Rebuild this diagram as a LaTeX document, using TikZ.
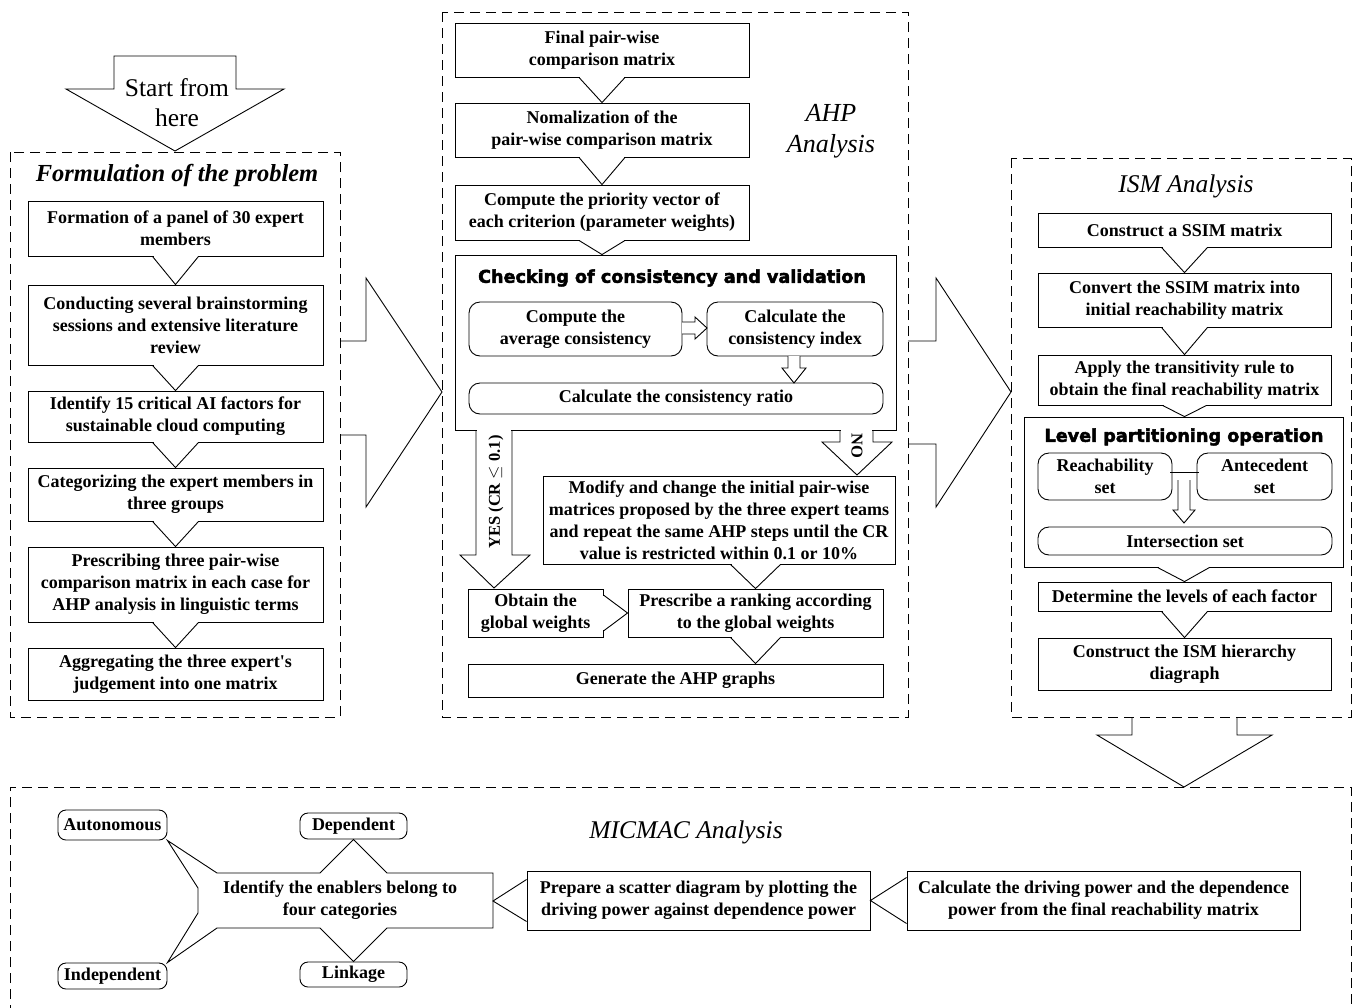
\documentclass[tikz,border=0pt]{standalone}
\usepackage{fontspec}
\setmainfont{Liberation Serif}
\newfontfamily\headfont{DejaVu Sans}[BoldFont={DejaVu Sans Bold}, BoldFeatures={FakeBold=2.5}]
\tikzset{
 ln/.style={line width=0.9pt, line join=miter},
 box/.style={draw, ln, fill=white, inner sep=0pt, align=center, font=\bfseries\fontsize{18}{22}\selectfont},
 rbox/.style={box, rounded corners=11pt},
 sbox/.style={box, rounded corners=8pt},
 cont/.style={draw, line width=0.9pt, dash pattern=on 10pt off 6pt},
 ttl/.style={align=center, font=\itshape\fontsize{25.5}{31}\selectfont},
 hd/.style={font=\headfont\bfseries\fontsize{17.6}{20}\selectfont},
 plain/.style={align=center, inner sep=0pt, font=\bfseries\fontsize{18}{22}\selectfont},
}
\newcommand{\mybox}[7]{\node[#1,minimum width={#5-#3},minimum height={#6-#4}] (#2) at ({(#3+#5)/2},{(#4+#6)/2}) {#7};}
\newcommand{\vcon}[3]{%
 \draw[white,line width=1.6pt] ([xshift={-(#3-1)}]#1) -- ([xshift={#3-1}]#1);
 \draw[ln] ([xshift=-#3]#1) -- (#2) -- ([xshift=#3]#1);}
\newcommand{\hcon}[3]{%
 \draw[white,line width=1.6pt] ([yshift={#3-1}]#1) -- ([yshift={-(#3-1)}]#1);
 \draw[ln] ([yshift=#3]#1) -- (#2) -- ([yshift=-#3]#1);}
\begin{document}
\begin{tikzpicture}[x=1pt,y=-1pt]
\useasboundingbox (0,0) rectangle (1362,1007);
% containers
\draw[cont] (10,152) rectangle (340,717);
\draw[cont] (442,12) rectangle (908,717);
\draw[cont] (1011,158) rectangle (1351,717);
\draw[cont] (10,1015) -- (10,787) -- (1351,787) -- (1351,1015);
% big arrows
\draw[ln,fill=white] (114,56) -- (236,56) -- (236,89) -- (284,89) -- (175,151) -- (66,89) -- (114,89) -- cycle;
\node[align=center, inner sep=0pt, font=\fontsize{25.5}{30}\selectfont] (start) at (177,103) {Start from\\here};
\draw[ln] (340,341) -- (366,341) -- (366,278) -- (442,392) -- (366,507) -- (366,435) -- (340,435);
\draw[ln] (908,341) -- (936,341) -- (936,278) -- (1011,392) -- (936,507) -- (936,444) -- (908,444);
\draw[ln] (1132,717) -- (1132,735) -- (1097,735) -- (1184,787) -- (1272,735) -- (1237,735) -- (1237,717);
% titles
\node[ttl, font=\bfseries\itshape\fontsize{24.5}{26}\selectfont] (t1) at (177,175) {Formulation of the problem};
\node[ttl, font=\itshape\fontsize{26}{31}\selectfont] (t2) at (831,131) {AHP\\Analysis};
\node[ttl] (t3) at (1186,186) {ISM Analysis};
\node[ttl] (t4) at (686,832) {MICMAC Analysis};
% left column
\mybox{box}{l1}{28}{201}{323}{256}{Formation of a panel of 30 expert\\members}
\mybox{box}{l2}{28}{285}{323}{365}{Conducting several brainstorming\\sessions and extensive literature\\review}
\mybox{box}{l3}{28}{391}{323}{442}{Identify 15 critical AI factors for\\sustainable cloud computing}
\mybox{box}{l4}{28}{468}{323}{521}{Categorizing the expert members in\\three groups}
\mybox{box}{l5}{28}{547}{323}{622}{Prescribing three pair-wise\\comparison matrix in each case for\\AHP analysis in linguistic terms}
\mybox{box}{l6}{28}{648}{323}{700}{Aggregating the three expert\textquotesingle s\\judgement into one matrix}
\vcon{l1.south}{l2.north}{23}
\vcon{l2.south}{l3.north}{23}
\vcon{l3.south}{l4.north}{23}
\vcon{l4.south}{l5.north}{23}
\vcon{l5.south}{l6.north}{23}
% middle column
\mybox{box}{m1}{455}{23}{749}{77}{Final pair-wise\\comparison matrix}
\mybox{box}{m2}{455}{103}{749}{157}{Nomalization of the\\pair-wise comparison matrix}
\mybox{box}{m3}{455}{185}{749}{240}{Compute the priority vector of\\each criterion (parameter weights)}
\mybox{box}{chk}{455}{255}{896}{430}{}
\node[hd] (chkh) at (672,278) {Checking of consistency and validation};
\mybox{rbox}{c1}{469}{302}{682}{356}{Compute the\\average consistency}
\mybox{rbox}{c2}{707}{302}{883}{356}{Calculate the\\consistency index}
\mybox{rbox}{c3}{469}{383}{883}{414}{Calculate the consistency ratio}
\draw[ln,fill=white] (682,322) -- (695,322) -- (695,317) -- (707,328) -- (695,339) -- (695,334) -- (682,334);
\draw[ln,fill=white] (788,356) -- (788,368) -- (782,368) -- (794,383) -- (806,368) -- (800,368) -- (800,356);
\vcon{m1.south}{m2.north}{23}
\vcon{m2.south}{m3.north}{23}
\coordinate (a1) at (m3.south |- chk.north);
\vcon{m3.south}{a1}{23}
\mybox{box}{mod}{543}{476}{895}{564}{Modify and change the initial pair-wise\\matrices proposed by the three expert teams\\and repeat the same AHP steps until the CR\\value is restricted within 0.1 or 10\%}
\mybox{box}{obt}{468}{589}{603}{637}{Obtain the\\global weights}
\mybox{box}{pres}{628}{589}{883}{637}{Prescribe a ranking according\\to the global weights}
\mybox{box}{gen}{468}{664}{883}{697}{Generate the AHP graphs}
% YES / NO arrows
\draw[white,line width=1.6pt] (477,430) -- (511,430);
\draw[white,line width=1.6pt] (841,430) -- (872,430);
\draw[ln] (476,430) -- (476,555) -- (460,555) -- (494,588) -- (530,555) -- (512,555) -- (512,430);
\draw[ln] (840,430) -- (840,442) -- (822,442) -- (857,475) -- (892,442) -- (873,442) -- (873,430);
\node[plain, rotate=90, font=\bfseries\fontsize{16.5}{20}\selectfont] (yes) at (496,492) {YES (CR $\leq$ 0.1)};
\node[plain, rotate=-90, font=\bfseries\fontsize{16.5}{20}\selectfont] (no) at (857,446) {NO};
\coordinate (t1m) at (pres.north |- mod.south);
\vcon{t1m}{pres.north}{25}
\hcon{obt.east}{pres.west}{18}
\coordinate (a2) at (pres.south |- gen.north);
\vcon{pres.south}{a2}{25}
% right column
\mybox{box}{r1}{1038}{213}{1331}{247}{Construct a SSIM matrix}
\mybox{box}{r2}{1038}{273}{1331}{327}{Convert the SSIM matrix into\\initial reachability matrix}
\mybox{box}{r3}{1038}{355}{1331}{405}{Apply the transitivity rule to\\obtain the final reachability matrix}
\mybox{box}{lvl}{1024}{417}{1343}{567}{}
\node[hd] (lvlh) at (1184,437) {Level partitioning operation};
\mybox{rbox}{rs}{1038}{453}{1172}{500}{Reachability\\set}
\mybox{rbox}{as}{1197}{453}{1332}{500}{Antecedent\\set}
\mybox{rbox}{is}{1038}{527}{1332}{555}{Intersection set}
\draw[ln] (1170,472) -- (1199,472);
\draw[ln,fill=white] (1178,480) -- (1178,510) -- (1173,510) -- (1184,523) -- (1195,510) -- (1190,510) -- (1190,480);
\mybox{box}{r5}{1038}{582}{1331}{611}{Determine the levels of each factor}
\mybox{box}{r6}{1038}{638}{1331}{690}{Construct the ISM hierarchy\\diagraph}
\vcon{r1.south}{r2.north}{23}
\vcon{r2.south}{r3.north}{23}
\coordinate (a3) at (r3.south |- lvl.north);
\vcon{r3.south}{a3}{22}
\vcon{lvl.south}{r5.north}{26}
\vcon{r5.south}{r6.north}{23}
% bottom
\mybox{box}{calc}{907}{871}{1300}{930}{Calculate the driving power and the dependence\\power from the final reachability matrix}
\mybox{box}{prep}{527}{871}{870}{930}{Prepare a scatter diagram by plotting the\\driving power against dependence power}
\mybox{sbox}{auto}{58}{810}{167}{840}{Autonomous}
\mybox{sbox}{dep}{300}{813}{407}{839}{Dependent}
\mybox{sbox}{ind}{58}{963}{167}{989}{Independent}
\mybox{sbox}{lnk}{300}{962}{407}{987}{Linkage}
\node[plain] (idf) at (340,900) {Identify the enablers belong to\\four categories};
\coordinate (idfR) at (493,901);
\draw[ln] (217,873) -- (320,873) -- (dep.south) -- (387,873) -- (493,873) -- (493,928) -- (387,928) -- (lnk.north) -- (320,928) -- (217,928) -- (ind.north east) -- (198,913) -- (198,888) -- (auto.south east) -- cycle;
\hcon{prep.west}{idfR}{21}
\hcon{calc.west}{prep.east}{23}
\end{tikzpicture}
\end{document}
